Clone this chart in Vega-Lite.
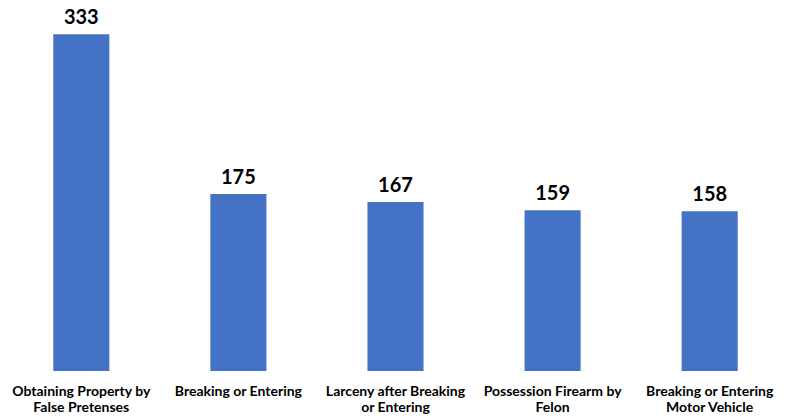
{
  "$schema": "https://vega.github.io/schema/vega-lite/v6.json",
  "width": 785,
  "height": 354,
  "autosize": {"type": "none"},
  "padding": {"left": 3, "top": 17, "right": 3, "bottom": 46},
  "background": "white",
  "config": {"view": {"stroke": null}},
  "data": {"values": [
    {"offense": "Obtaining Property by False Pretenses", "count": 333},
    {"offense": "Breaking or Entering", "count": 175},
    {"offense": "Larceny after Breaking or Entering", "count": 167},
    {"offense": "Possession Firearm by Felon", "count": 159},
    {"offense": "Breaking or Entering Motor Vehicle", "count": 158}
  ]},
  "encoding": {
    "x": {
      "field": "offense", "type": "nominal", "sort": null,
      "scale": {"paddingInner": 0.643, "paddingOuter": 0.32},
      "axis": {
        "title": null, "domain": false, "ticks": false, "labelAngle": 0,
        "labelFont": "Lato", "labelFontWeight": "bold", "labelFontSize": 14,
        "labelColor": "#000000", "labelPadding": 13, "labelLineHeight": 16,
        "labelLimit": 200,
        "labelExpr": "datum.label == 'Obtaining Property by False Pretenses' ? ['Obtaining Property by', 'False Pretenses'] : datum.label == 'Larceny after Breaking or Entering' ? ['Larceny after Breaking', 'or Entering'] : datum.label == 'Possession Firearm by Felon' ? ['Possession Firearm by', 'Felon'] : datum.label == 'Breaking or Entering Motor Vehicle' ? ['Breaking or Entering', 'Motor Vehicle'] : datum.label"
      }
    },
    "y": {
      "field": "count", "type": "quantitative",
      "scale": {"domain": [0, 350], "nice": false},
      "axis": null
    }
  },
  "layer": [
    {"mark": {"type": "bar", "color": "#4472C4"}},
    {"mark": {"type": "text", "baseline": "bottom", "dy": -6, "font": "Lato", "fontWeight": "bold", "fontSize": 20, "color": "#000000"},
     "encoding": {"text": {"field": "count", "type": "quantitative"}}}
  ]
}
